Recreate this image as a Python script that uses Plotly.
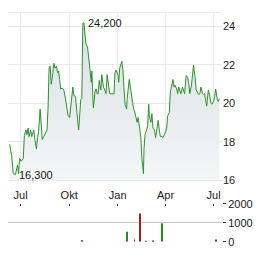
import plotly.graph_objects as go

# ---- price series ----
dates = ["2023-06-10","2023-06-14","2023-06-17","2023-06-21","2023-06-25","2023-06-27","2023-06-29","2023-07-02","2023-07-06","2023-07-08",
"2023-07-11","2023-07-13","2023-07-15","2023-07-17","2023-07-20","2023-07-22","2023-07-24","2023-07-26","2023-07-28","2023-07-31",
"2023-08-02","2023-08-04","2023-08-07","2023-08-09","2023-08-11","2023-08-14","2023-08-17","2023-08-20","2023-08-22","2023-08-24",
"2023-08-26","2023-08-28","2023-08-31","2023-09-02","2023-09-04","2023-09-07","2023-09-09","2023-09-11","2023-09-13","2023-09-15",
"2023-09-18","2023-09-21","2023-09-24","2023-09-27","2023-09-29","2023-10-02","2023-10-04","2023-10-07","2023-10-08","2023-10-10",
"2023-10-13","2023-10-16","2023-10-19","2023-10-20","2023-10-23","2023-10-25","2023-10-27","2023-10-29","2023-10-31","2023-11-02",
"2023-11-05","2023-11-07","2023-11-10","2023-11-12","2023-11-13","2023-11-16","2023-11-19","2023-11-21","2023-11-23","2023-11-25",
"2023-11-27","2023-11-30","2023-12-02","2023-12-05","2023-12-07","2023-12-10","2023-12-12","2023-12-15","2023-12-17","2023-12-21",
"2023-12-25","2023-12-27","2023-12-29","2024-01-02","2024-01-03","2024-01-05","2024-01-09","2024-01-11","2024-01-12","2024-01-15",
"2024-01-18","2024-01-19","2024-01-23","2024-01-25","2024-01-29","2024-01-31","2024-02-02","2024-02-05","2024-02-07","2024-02-09",
"2024-02-12","2024-02-14","2024-02-16","2024-02-19","2024-02-20","2024-02-22","2024-02-26","2024-02-27","2024-02-29","2024-03-01",
"2024-03-04","2024-03-06","2024-03-08","2024-03-11","2024-03-13","2024-03-15","2024-03-18","2024-03-20","2024-03-22","2024-03-25",
"2024-03-27","2024-04-01","2024-04-03","2024-04-05","2024-04-08","2024-04-10","2024-04-12","2024-04-15","2024-04-17","2024-04-19",
"2024-04-22","2024-04-24","2024-04-26","2024-04-30","2024-05-03","2024-05-07","2024-05-10","2024-05-13","2024-05-15","2024-05-17",
"2024-05-20","2024-05-22","2024-05-24","2024-05-27","2024-05-29","2024-06-03","2024-06-05","2024-06-07","2024-06-10","2024-06-12",
"2024-06-14","2024-06-18","2024-06-21","2024-06-24","2024-06-26","2024-06-28","2024-07-01","2024-07-03","2024-07-05","2024-07-08",
"2024-07-10","2024-07-12"]

prices = [17.88,17.29,16.35,16.30,16.79,16.35,17.14,16.99,17.14,18.33,
18.62,18.38,18.72,18.28,18.62,18.28,18.48,18.62,18.13,17.63,
18.23,18.53,19.71,18.62,18.13,18.28,18.48,18.62,19.76,21.84,
21.94,21.00,21.60,22.09,21.84,21.94,21.60,21.69,21.25,20.75,
20.80,20.70,20.26,19.71,19.37,19.27,19.71,20.36,20.85,20.41,
20.36,19.47,18.62,18.97,20.21,20.26,24.17,24.20,23.48,23.08,
22.93,22.44,21.60,21.10,21.69,19.76,20.60,20.75,20.51,20.50,
21.20,20.70,21.50,20.85,20.75,20.51,21.50,21.00,20.51,20.50,
20.50,21.60,21.74,21.45,21.10,21.84,22.19,21.74,21.35,19.96,
19.71,20.21,21.25,20.85,20.11,19.76,19.61,19.17,19.02,19.27,
18.77,18.23,17.14,16.35,17.63,18.38,18.72,18.87,19.96,19.37,
19.02,19.47,18.72,18.62,18.23,18.62,19.12,18.62,18.28,18.28,
18.23,18.53,18.72,19.37,19.52,20.60,20.95,21.25,20.85,20.95,
20.75,20.51,20.85,20.51,20.85,20.51,21.45,21.35,21.00,20.51,
20.95,21.60,21.99,21.35,20.70,20.46,20.51,20.85,20.51,20.46,
20.51,19.86,20.70,20.36,20.01,19.96,20.11,20.36,20.75,20.21,
20.11,20.26]
assert len(dates) == len(prices)

# ---- volume series ----
vol_dates = ["2023-10-26","2024-01-19","2024-02-02","2024-02-12","2024-02-23","2024-03-08","2024-03-26","2024-07-05"]
vol_values = [100, 530, 120, 1490, 50, 70, 980, 120]
vol_up = [True, True, False, False, True, False, True, False]

# ---- labels ----
tick_dates = ["2023-07-01","2023-10-01","2024-01-01","2024-04-01","2024-07-01"]
tick_text = ["Jul","Okt","Jan","Apr","Jul"]
price_ticks = [16, 18, 20, 22, 24]
vol_ticks = [0, 1000, 2000]
hi_label, lo_label = "24,200", "16,300"
hi_date, hi_val = "2023-10-29", 24.20
lo_date, lo_val = "2023-06-21", 16.30

W, H = 264, 255
FONT = dict(family="Liberation Sans, Arial, sans-serif", size=11, color="#1a1a1a")
GRID = "#e8e8e8"
xr = ["2023-06-07", "2024-07-17"]
xdom = [8 / W, 222 / W]

fig = go.Figure()
fig.add_trace(go.Scatter(
    x=dates, y=prices, mode="lines",
    line=dict(color="#2f8f2f", width=1),
    fill="tozeroy",
    fillgradient=dict(type="vertical", colorscale=[[0, "#f5f7f8"], [1, "#d9e0e5"]], start=16, stop=24.2),
    hoverinfo="skip", xaxis="x", yaxis="y"))

fig.add_trace(go.Bar(
    x=vol_dates, y=vol_values,
    marker=dict(color=["#2a8a22" if u else "#a01e1e" for u in vol_up], line=dict(width=0)),
    width=[86400000 * 1.9] * len(vol_dates),
    hoverinfo="skip", xaxis="x2", yaxis="y2"))

fig.add_annotation(x=hi_date, y=hi_val, text=hi_label, showarrow=False, xanchor="left", yanchor="middle",
                   xshift=2, font=FONT, xref="x", yref="y")
fig.add_annotation(x=lo_date, y=lo_val, text=lo_label, showarrow=False, xanchor="left", yanchor="middle",
                   xshift=2, font=FONT, xref="x", yref="y")

fig.update_layout(
    width=W, height=H, margin=dict(l=0, r=0, t=0, b=0),
    paper_bgcolor="white", plot_bgcolor="white", showlegend=False, font=FONT,
    xaxis=dict(domain=xdom, type="date", range=xr, anchor="y",
               tickvals=tick_dates, ticktext=tick_text, ticks="", ticklabelstandoff=4,
               showgrid=True, gridcolor=GRID, gridwidth=1,
               showline=True, linecolor=GRID, linewidth=1, mirror=True,
               zeroline=False, tickfont=FONT),
    yaxis=dict(domain=[72 / H, 248 / H], range=[16, 24.72], side="right", anchor="x",
               tickvals=price_ticks, ticks="", showgrid=True, gridcolor=GRID, gridwidth=1,
               showline=False, zeroline=False, tickfont=FONT),
    xaxis2=dict(domain=xdom, type="date", range=xr, anchor="y2", side="top",
                tickvals=tick_dates, showticklabels=False, ticks="inside", ticklen=2,
                tickcolor="#333333", tickwidth=1, showgrid=False, showline=False, zeroline=False),
    yaxis2=dict(domain=[7.5 / H, 47.5 / H], range=[0, 2000], side="right", anchor="x2",
                tickvals=vol_ticks, ticks="outside", ticklen=3, tickcolor="#333333",
                showgrid=True, gridcolor="#c8c8c8", gridwidth=1, showline=False, zeroline=False,
                tickfont=FONT),
)

fig.write_html("out.html")
